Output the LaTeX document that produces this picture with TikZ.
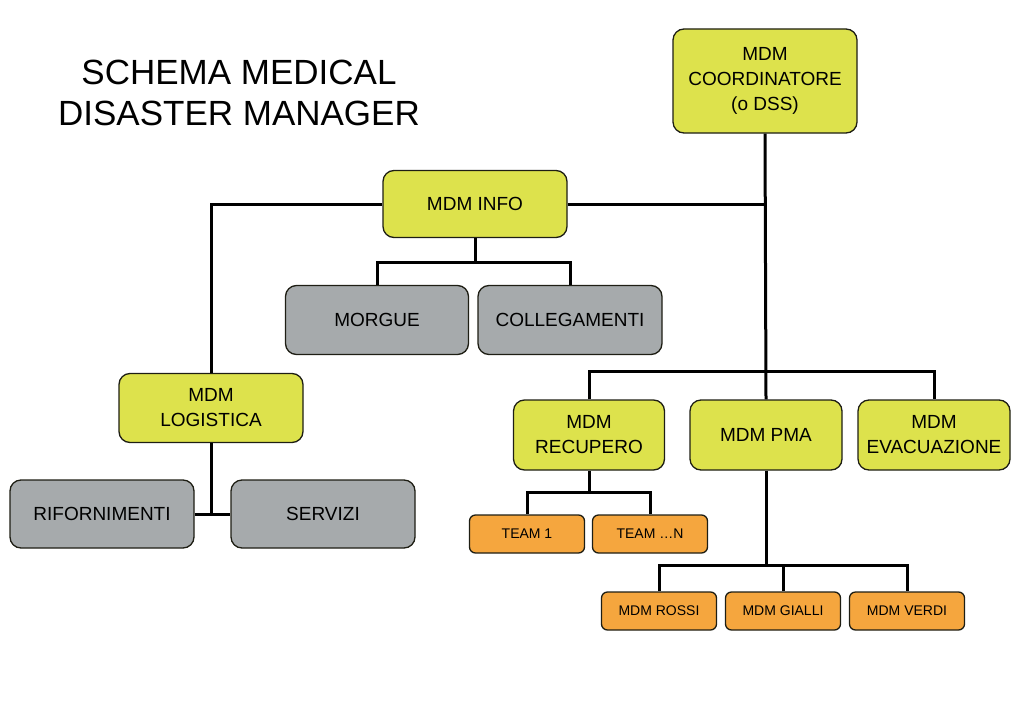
\documentclass[tikz,border=0pt]{standalone}
\usepackage{fontspec}
\setmainfont{Liberation Sans}
\definecolor{ygreen}{RGB}{221,226,76}
\definecolor{gbox}{RGB}{166,170,172}
\definecolor{obox}{RGB}{245,166,62}
\definecolor{bord}{RGB}{30,30,20}
\tikzset{
  box/.style={draw=bord, line width=1.3pt, align=center, inner sep=0pt,
    font=\fontsize{19}{25}\selectfont, rounded corners=11pt},
  ybox/.style={box, fill=ygreen},
  gybox/.style={box, fill=gbox},
  obox/.style={box, fill=obox, font=\fontsize{14}{17}\selectfont, rounded corners=6pt,
    minimum width=115pt, minimum height=38pt},
  conn/.style={line width=3pt, black},
}
\begin{document}
\begin{tikzpicture}[x=1pt,y=-1pt]
\useasboundingbox (0,0) rectangle (1024,701);
\node[font=\fontsize{35}{41}\selectfont, align=center] (title) at (239,93) {SCHEMA MEDICAL\\DISASTER MANAGER};

\node[ybox, minimum width=184pt, minimum height=104pt] (coord) at (765,81) {MDM\\COORDINATORE\\(o DSS)};
\node[ybox, minimum width=184pt, minimum height=67pt] (info) at (475,204) {MDM INFO};
\node[gybox, minimum width=183pt, minimum height=69pt] (morgue) at (377,320) {MORGUE};
\node[gybox, minimum width=184pt, minimum height=69pt] (coll) at (570,320) {COLLEGAMENTI};
\node[ybox, minimum width=184pt, minimum height=69pt] (logi) at (211,408) {MDM\\LOGISTICA};
\node[gybox, minimum width=184pt, minimum height=68pt] (rif) at (102,514) {RIFORNIMENTI};
\node[gybox, minimum width=184pt, minimum height=68pt] (serv) at (323,514) {SERVIZI};
\node[ybox, minimum width=151pt, minimum height=70pt] (rec) at (589,435) {MDM\\RECUPERO};
\node[ybox, minimum width=152pt, minimum height=70pt] (pma) at (766,435) {MDM PMA};
\node[ybox, minimum width=152pt, minimum height=70pt] (evac) at (934,435) {MDM\\EVACUAZIONE};
\node[obox] (t1) at (527,534) {TEAM 1};
\node[obox] (tn) at (650,534) {TEAM …N};
\node[obox] (rossi) at (659,611) {MDM ROSSI};
\node[obox] (gialli) at (783,611) {MDM GIALLI};
\node[obox] (verdi) at (907,611) {MDM VERDI};

\coordinate (bus) at (766,371);
\coordinate (ibus) at (475,262);
\coordinate (rbus) at (589,492);
\coordinate (pbus) at (766,565);

% coordinator trunk
\draw[conn] (coord.south) -- (pma.north);
\draw[conn] (rec.north) |- (bus) -| (evac.north);
% info
\draw[conn] (info.east) -- (info.east -| coord.south);
\draw[conn] (info.west) -| (logi.north);
\draw[conn] (info.south) -- (ibus);
\draw[conn] (morgue.north) |- (ibus) -| (coll.north);
% logistica
\draw[conn] (logi.south) -- (logi.south |- rif.east);
\draw[conn] (rif.east) -- (serv.west);
% recupero
\draw[conn] (rec.south) -- (rbus);
\draw[conn] (t1.north) |- (rbus) -| (tn.north);
% pma
\draw[conn] (pma.south) -- (pbus);
\draw[conn] (rossi.north) |- (pbus) -| (verdi.north);
\draw[conn] (gialli.north) -- (gialli.north |- pbus);
\end{tikzpicture}
\end{document}
